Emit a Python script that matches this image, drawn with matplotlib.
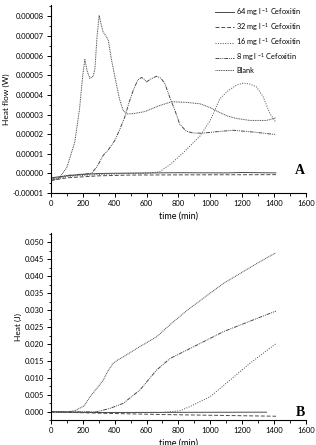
import numpy as np
from matplotlib import pyplot as plt
from matplotlib.ticker import MultipleLocator, FormatStrFormatter

plt.rcParams['font.family'] = ['Lato', 'DejaVu Sans']
plt.rcParams['mathtext.fontset'] = 'custom'
plt.rcParams['mathtext.rm'] = 'Lato'
plt.rcParams['mathtext.default'] = 'regular'

labels = ["64 mg l $^{-1}$ Cefoxitin", "32 mg l $^{-1}$ Cefoxitin",
          "16 mg l $^{-1}$ Cefoxitin", "8 mg l $^{-1}$ Cefoxitin", "Blank"]

# panel A: heat flow (W)
t_64a = [0, 100, 200, 300, 500, 800, 1100, 1200, 1412]
hf_64 = [-2.2e-6, -1.2e-6, -0.5e-6, 0.0, 0.2e-6, 0.4e-6, 0.3e-6, 0.5e-6, 0.3e-6]

t_32a = [0, 100, 300, 500, 800, 1412]
hf_32 = [-3.6e-6, -2.2e-6, -1.2e-6, -0.8e-6, -0.7e-6, -0.6e-6]

t_16a = [0, 100, 300, 500, 600, 680, 747, 830, 935, 1000, 1060, 1110, 1165,
         1207, 1250, 1291, 1332, 1374, 1412]
hf_16 = [-3.5e-6, -1.5e-6, -0.5e-6, 0.0, 0.1e-6, 0.8e-6, 4.5e-6, 1.05e-5, 1.9e-5,
         2.7e-5, 3.8e-5, 4.2e-5, 4.5e-5, 4.6e-5, 4.55e-5, 4.4e-5, 3.9e-5, 3.05e-5, 2.6e-5]

t_8a = [0, 100, 200, 255, 290, 328, 360, 402, 430, 464, 490, 517, 545, 569, 585,
        600, 625, 663, 690, 715, 745, 778, 809, 850, 893, 950, 1018, 1144, 1269, 1412]
hf_8 = [-3e-6, -1e-6, -0.3e-6, 0.1e-6, 3.5e-6, 9.2e-6, 1.2e-5, 1.69e-5, 2.2e-5,
        2.88e-5, 3.6e-5, 4.24e-5, 4.75e-5, 4.89e-5, 4.8e-5, 4.66e-5, 4.8e-5, 4.95e-5,
        4.85e-5, 4.58e-5, 3.9e-5, 3.22e-5, 2.5e-5, 2.15e-5, 2.06e-5, 2.05e-5, 2.11e-5,
        2.2e-5, 2.11e-5, 1.98e-5]

t_bla = [0, 50, 100, 150, 180, 200, 213, 228, 245, 265, 276, 290, 303, 315, 328,
         345, 360, 380, 402, 430, 454, 480, 520, 590, 680, 757, 850, 935, 1000,
         1060, 1110, 1165, 1249, 1353, 1412]
hf_bl = [-3.6e-6, -2.5e-6, 3.0e-6, 1.6e-5, 3.3e-5, 5.0e-5, 5.8e-5, 5.2e-5, 4.84e-5,
         4.95e-5, 5.3e-5, 7.0e-5, 8.05e-5, 7.6e-5, 7.2e-5, 7.0e-5, 6.8e-5, 5.8e-5,
         4.9e-5, 3.8e-5, 3.2e-5, 3.03e-5, 3.05e-5, 3.15e-5, 3.45e-5, 3.65e-5, 3.62e-5,
         3.55e-5, 3.35e-5, 3.1e-5, 2.92e-5, 2.8e-5, 2.7e-5, 2.7e-5, 2.83e-5]

# panel B: cumulative heat (J)
t_64b = [0, 300, 1353]
q_64 = [0.0, -0.0002, -0.0001]

t_32b = [0, 300, 700, 1412]
q_32 = [0.0, -0.0004, -0.0008, -0.0013]

t_16b = [0, 700, 810, 870, 998, 1123, 1249, 1412]
q_16 = [-0.0002, -0.0002, 0.0003, 0.0015, 0.0044, 0.0093, 0.0143, 0.0201]

t_8b = [0, 287, 370, 454, 558, 663, 747, 862, 1081, 1291, 1412]
q_8 = [0.0, 0.0, 0.001, 0.0025, 0.0064, 0.0123, 0.0157, 0.0184, 0.0236, 0.0275, 0.0297]

t_blb = [0, 100, 150, 210, 245, 290, 328, 360, 391, 420, 454, 550, 663, 760, 862,
         1081, 1291, 1412]
q_bl = [0.0, 0.0, 0.0003, 0.0018, 0.0044, 0.007, 0.0093, 0.0122, 0.0143, 0.0153,
        0.0162, 0.019, 0.0221, 0.0262, 0.0302, 0.0378, 0.0437, 0.0469]

col = '#4a4a4a'
lw = 0.7
styles = ['-', (0, (4, 2)), (0, (1, 1.5)), (0, (4, 1, 1, 1, 1, 1)), (0, (1, 0.8))]

fig = plt.figure(figsize=(3.16, 4.45), dpi=100)
axA = fig.add_axes([0.161, 0.566, 0.807, 0.423])
axB = fig.add_axes([0.161, 0.0555, 0.807, 0.42])

seriesA = [(t_64a, hf_64), (t_32a, hf_32), (t_16a, hf_16), (t_8a, hf_8), (t_bla, hf_bl)]
seriesB = [(t_64b, q_64), (t_32b, q_32), (t_16b, q_16), (t_8b, q_8), (t_blb, q_bl)]

for (t, v), ls, lab in zip(seriesA, styles, labels):
    axA.plot(t, v, color=col, lw=lw, linestyle=ls, label=lab)
for (t, v), ls in zip(seriesB, styles):
    axB.plot(t, v, color=col, lw=lw, linestyle=ls)

axA.set_ylim(-0.00001, 0.0000858)
axA.yaxis.set_major_locator(MultipleLocator(0.00001))
axA.yaxis.set_minor_locator(MultipleLocator(0.000005))
axA.yaxis.set_major_formatter(FormatStrFormatter('%.5f'))
axA.set_ylabel("Heat flow (W)", fontsize=6, labelpad=2)

axB.set_ylim(-0.0025, 0.0526)
axB.yaxis.set_major_locator(MultipleLocator(0.005))
axB.yaxis.set_minor_locator(MultipleLocator(0.0025))
axB.yaxis.set_major_formatter(FormatStrFormatter('%.3f'))
axB.set_ylabel("Heat (J)", fontsize=6, labelpad=2)

for ax in (axA, axB):
    ax.set_xlim(0, 1600)
    ax.xaxis.set_major_locator(MultipleLocator(200))
    ax.xaxis.set_minor_locator(MultipleLocator(100))
    ax.set_xlabel("time (min)", fontsize=6.5, labelpad=3)
    ax.spines['top'].set_visible(False)
    ax.spines['right'].set_visible(False)
    ax.spines['left'].set_linewidth(0.8)
    ax.spines['bottom'].set_linewidth(0.8)
    ax.tick_params(which='major', length=3, width=0.7, labelsize=5.5, pad=2)
    ax.tick_params(which='minor', length=1.8, width=0.6)

axA.legend(loc='upper right', bbox_to_anchor=(1.0, 1.02), fontsize=5.3, frameon=False,
           handlelength=2.6, handletextpad=0.3, labelspacing=0.45, borderaxespad=0.2)

axA.text(0.995, 0.12, "A", transform=axA.transAxes, ha='right', va='center',
         fontsize=10, fontweight='bold', family='Liberation Serif')
axB.text(0.995, 0.04, "B", transform=axB.transAxes, ha='right', va='center',
         fontsize=10, fontweight='bold', family='Liberation Serif')

fig.savefig("out.png", dpi=100)
